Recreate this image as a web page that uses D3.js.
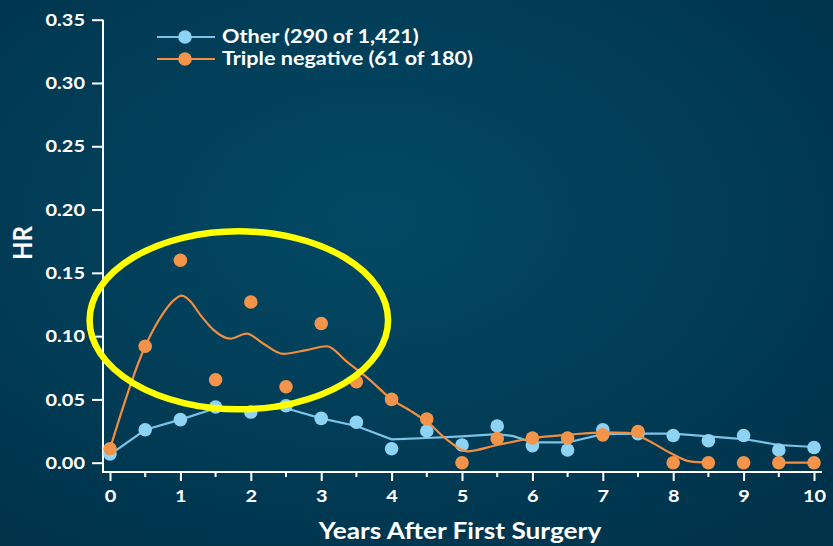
<!DOCTYPE html>
<html>
<head>
<meta charset="utf-8">
<style>
  html, body { margin: 0; padding: 0; background: #013b53; }
  svg { display: block; }
  text { font-family: Lato, "Open Sans", sans-serif; font-weight: bold; fill: #fff; }
</style>
<script src="https://cdn.jsdelivr.net/npm/d3@7"></script>
</head>
<body>
<svg id="chart" width="833" height="546"></svg>
<script>
// years after first surgery, half-year steps
var years = [0,0.5,1,1.5,2,2.5,3,3.5,4,4.5,5,5.5,6,6.5,7,7.5,8,8.5,9,9.5,10];
// observed HR points
var otherHR = [0.007,0.026,0.034,0.044,0.040,0.045,0.035,0.032,0.011,0.025,0.014,0.029,0.0135,0.010,0.026,0.023,0.0215,0.0174,0.0215,0.010,0.012];
var tnHR    = [0.011,0.092,0.160,0.0655,0.127,0.060,0.110,0.064,0.050,0.0345,0,0.019,0.0195,0.0195,0.022,0.0247,0,0,0,0,0];
// smoothed curves
var otherFitX = [0,0.5,1,1.5,2,2.5,3,3.5,4,4.5,5,5.5,5.73,6,6.5,7,7.5,8,8.5,9,9.5,10];
var otherFitY = [0.0064,0.026,0.034,0.043,0.042,0.043,0.035,0.029,0.0185,0.0195,0.0208,0.0226,0.021,0.016,0.016,0.0226,0.023,0.023,0.0208,0.0187,0.014,0.0124];
var tnFitX = [0,0.5,0.72,0.9,1.02,1.15,1.28,1.47,1.71,1.94,2.18,2.46,2.79,3.08,3.36,3.69,4.0,4.27,4.53,4.79,5.07,5.5,6.02,6.5,7.02,7.35,7.63,7.96,8.24,8.5,9,9.5,10];
var tnFitY = [0.011,0.092,0.115,0.128,0.132,0.127,0.117,0.105,0.098,0.102,0.094,0.086,0.089,0.092,0.080,0.0655,0.050,0.041,0.031,0.018,0.009,0.014,0.0195,0.022,0.024,0.0235,0.018,0.0077,0.001,0,null,0,0];
var yTicks = [0,0.05,0.10,0.15,0.20,0.25,0.30,0.35];
var xMajor = [0,1,2,3,4,5,6,7,8,9,10];
var xMinor = [0.5,1.5,2.5,3.5,4.5,5.5,6.5,7.5,8.5,9.5];
var legendItems = ["Other (290 of 1,421)", "Triple negative (61 of 180)"];
// annotation ring: centre (years, HR) and radii
var ring = {cx: 1.83, cy: 0.1125, rx: 2.12, ry: 0.0703};

var blueLine = "#7cc3e6", bluePt = "#8ed2f4";
var orangeLine = "#f28e40", orangePt = "#f4944a";
var stretch = 1.14; // the slide text is a little wider than Lato

var svg = d3.select("#chart");

var defs = svg.append("defs");
var grad = defs.append("radialGradient").attr("id", "bg")
  .attr("cx", "45%").attr("cy", "40%").attr("r", "75%");
grad.append("stop").attr("offset", "0%").attr("stop-color", "#034965");
grad.append("stop").attr("offset", "100%").attr("stop-color", "#00324a");
svg.append("rect").attr("width", 833).attr("height", 546).attr("fill", "url(#bg)");

var x = d3.scaleLinear().domain([0, 10]).range([110, 814]);
var y = d3.scaleLinear().domain([0, 0.35]).range([462.7, 19.7]);

// axes
var yAxis = d3.axisLeft(y).tickValues(yTicks).tickFormat(d3.format(".2f")).tickSize(11).tickPadding(7);
var gy = svg.append("g").attr("transform", "translate(103,0)").call(yAxis);
gy.select(".domain").remove();
gy.append("line").attr("x1", 0).attr("x2", 0).attr("y1", y(0.35)).attr("y2", 472)
  .attr("stroke", "#fff").attr("stroke-width", 2);
gy.selectAll(".tick line").attr("stroke", "#fff").attr("stroke-width", 2);
gy.selectAll(".tick text").attr("fill", "#fff").style("font-size", "17.5px")
  .style("font-family", "Lato, sans-serif").style("font-weight", "bold");

var gx = svg.append("g").attr("transform", "translate(0,472)");
gx.append("line").attr("x1", 102).attr("x2", 822).attr("y1", 0).attr("y2", 0)
  .attr("stroke", "#fff").attr("stroke-width", 2);
gx.call(d3.axisBottom(x).tickValues(xMajor).tickFormat(d3.format("d")).tickSize(9).tickPadding(9));
gx.select(".domain").remove();
gx.selectAll(".tick line").attr("stroke", "#fff").attr("stroke-width", 2);
gx.selectAll(".tick text").attr("fill", "#fff").style("font-size", "17.5px")
  .style("font-family", "Lato, sans-serif").style("font-weight", "bold");
gx.selectAll(".minor").data(xMinor).enter().append("line").attr("class", "minor")
  .attr("x1", function(d){ return x(d); }).attr("x2", function(d){ return x(d); })
  .attr("y1", 0).attr("y2", 5).attr("stroke", "#fff").attr("stroke-width", 2);

svg.append("text").attr("class", "wide").attr("x", 460).attr("y", 539).attr("text-anchor", "middle")
  .style("font-size", "23px").text("Years After First Surgery");
svg.append("text").attr("transform", "translate(32,243) scale(" + stretch + ",1) rotate(-90)")
  .attr("text-anchor", "middle").style("font-size", "24px").text("HR");

// series
function fitPairs(xs, ys) {
  return xs.map(function(v, i){ return [v, ys[i]]; });
}
var line = d3.line()
  .defined(function(d){ return d[1] !== null; })
  .x(function(d){ return x(d[0]); })
  .y(function(d){ return y(d[1]); });

svg.append("path").datum(fitPairs(otherFitX, otherFitY))
  .attr("d", line.curve(d3.curveLinear)).attr("fill", "none")
  .attr("stroke", blueLine).attr("stroke-width", 2.2);
svg.append("g").selectAll("circle").data(fitPairs(years, otherHR)).enter().append("circle")
  .attr("cx", function(d){ return x(d[0]); }).attr("cy", function(d){ return y(d[1]); })
  .attr("r", 6.8).attr("fill", bluePt);

svg.append("path").datum(fitPairs(tnFitX, tnFitY))
  .attr("d", line.curve(d3.curveMonotoneX)).attr("fill", "none")
  .attr("stroke", orangeLine).attr("stroke-width", 2.2);
svg.append("g").selectAll("circle").data(fitPairs(years, tnHR)).enter().append("circle")
  .attr("cx", function(d){ return x(d[0]); }).attr("cy", function(d){ return y(d[1]); })
  .attr("r", 6.8).attr("fill", orangePt);

// legend
var legColors = [[blueLine, bluePt], [orangeLine, orangePt]];
var leg = svg.append("g").selectAll("g").data(legendItems).enter().append("g")
  .attr("transform", function(d, i){ return "translate(157," + (37 + i * 22) + ")"; });
leg.append("line").attr("x1", 0).attr("x2", 58).attr("stroke", function(d, i){ return legColors[i][0]; })
  .attr("stroke-width", 2.2);
leg.append("circle").attr("cx", 28).attr("r", 6.8).attr("fill", function(d, i){ return legColors[i][1]; });
leg.append("text").attr("class", "legtext").attr("x", 65).attr("dy", "0.36em")
  .style("font-size", "18px").text(function(d){ return d; });

// annotation ring
svg.append("ellipse")
  .attr("cx", x(ring.cx)).attr("cy", y(ring.cy))
  .attr("rx", x(ring.cx + ring.rx) - x(ring.cx)).attr("ry", y(0) - y(ring.ry))
  .attr("fill", "none").attr("stroke", "#ffff00").attr("stroke-width", 6.5);

// widen horizontal text to match the slide's proportions
svg.selectAll(".tick text, .wide").each(function(){
  var w = this.getComputedTextLength();
  d3.select(this).attr("textLength", w * stretch).attr("lengthAdjust", "spacingAndGlyphs");
});
svg.selectAll(".legtext").each(function(){
  var w = this.getComputedTextLength();
  d3.select(this).attr("textLength", w * 1.2).attr("lengthAdjust", "spacingAndGlyphs");
});
</script>
</body>
</html>
